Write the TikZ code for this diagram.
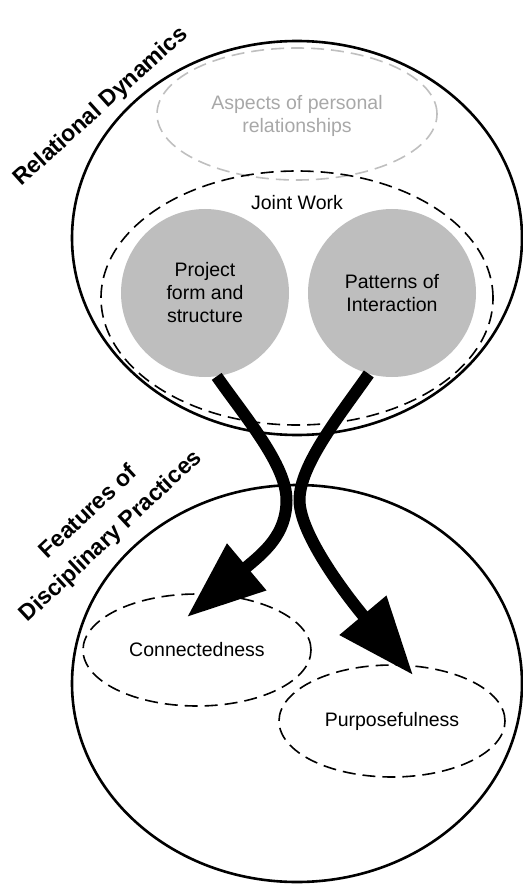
\documentclass[tikz,border=0pt]{standalone}
\usepackage{fontspec}
\setmainfont{Liberation Sans}
\usetikzlibrary{shapes.geometric,arrows.meta}
\definecolor{discgray}{HTML}{BEBEBE}
\definecolor{fadetext}{HTML}{A8A8A8}
\definecolor{fadeline}{HTML}{BFBFBF}

\begin{document}
\begin{tikzpicture}[x=1pt,y=1pt,
  realm/.style={draw,ellipse,line width=2.6pt,inner sep=0pt},
  facet/.style={draw,ellipse,line width=1.6pt,dash pattern=on 13pt off 7pt,inner sep=0pt,
    align=center,font=\fontsize{19.5}{23}\selectfont},
  aspect/.style={circle,fill=discgray,minimum size=168pt,inner sep=0pt,
    align=center,font=\fontsize{19.5}{23}\selectfont},
  heading/.style={font=\fontsize{23}{33}\selectfont\bfseries,align=center},
  flow/.style={line width=12pt,-{Triangle[length=78pt,width=58pt]}}]
\useasboundingbox (0,0) rectangle (522,-885);
\node[realm,minimum width=450pt,minimum height=394pt] (reldyn) at (297,-238) {};
\node[realm,minimum width=450pt,minimum height=397pt] (discprac) at (297,-683.5) {};
\node[facet,draw=fadeline,text=fadetext,minimum width=280pt,minimum height=132pt] (pers) at (297,-114) {};
\node[text=fadetext,align=center,font=\fontsize{19.5}{23}\selectfont] (perstext) at (297,-115.5) {Aspects of personal\\relationships};
\node[facet,minimum width=392pt,minimum height=254pt] (joint) at (297,-298) {};
\node[anchor=base,font=\fontsize{19.5}{23}\selectfont] (jointtext) at (297,-210) {Joint Work};
\node[aspect] (proj) at (205,-293) {Project\\form and\\structure};
\node[aspect] (pat) at (392,-293) {Patterns of\\Interaction};
\node[facet,minimum width=228pt,minimum height=112pt] (conn) at (197,-650) {Connectedness};
\node[facet,minimum width=226pt,minimum height=112pt] (purp) at (392,-721) {Purposefulness};
\node[heading,rotate=42,anchor=base] (relhead) at (105,-111.5) {Relational Dynamics};
\node[heading,rotate=43] (feathead) at (100,-524.6) {Features of\\Disciplinary Practices};
\coordinate (kiss) at (293,-500);
\draw[flow] (proj.-82) .. controls +(-55:50) and +(90:35) .. ([xshift=-6.5pt]kiss)
  .. controls +(-90:35) and +(40:100) .. ([shift={(-10,33)}]conn.center);
\draw[flow] (pat.-106) .. controls +(-125:50) and +(90:35) .. ([xshift=6.5pt]kiss)
  .. controls +(-90:35) and +(130:100) .. ([shift={(21,46)}]purp.center);
\end{tikzpicture}
\end{document}
